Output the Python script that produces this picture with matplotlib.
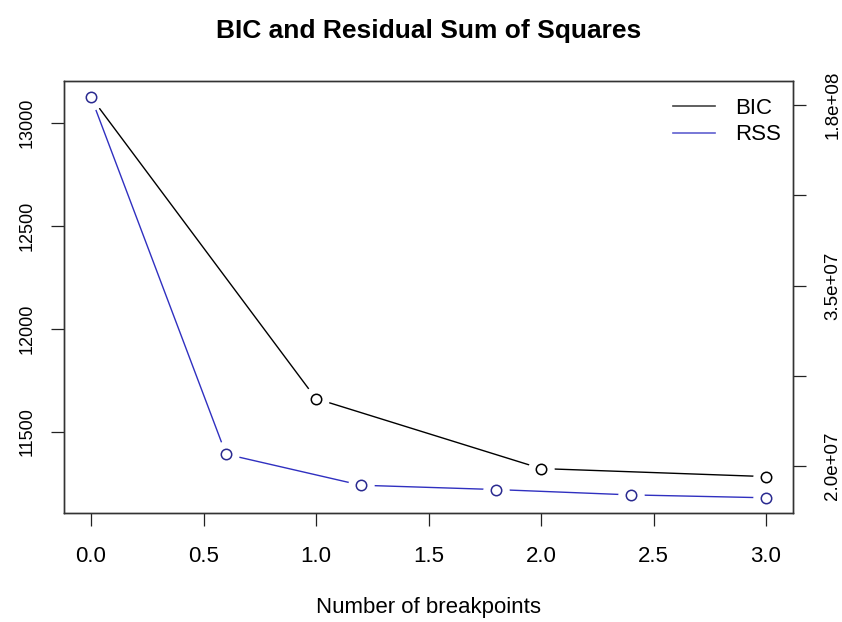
import matplotlib
matplotlib.use("Agg")
import matplotlib.pyplot as plt
from matplotlib.ticker import FixedLocator, FixedFormatter
from matplotlib.lines import Line2D

plt.rcParams['font.family'] = ['Liberation Sans', 'DejaVu Sans']

# data
bic_x = [0, 1, 2, 3]
bic = [13127, 11661, 11321, 11282]
rss_x = [0.0, 0.6, 1.2, 1.8, 2.4, 3.0]
# RSS drawn on the right axis (positions expressed on the shared plotting scale)
rss = [13127, 11391, 11240, 11219, 11193, 11179]
x_ticks = [0.0, 0.5, 1.0, 1.5, 2.0, 2.5, 3.0]
x_tick_labels = ["0.0", "0.5", "1.0", "1.5", "2.0", "2.5", "3.0"]
left_ticks = [11500, 12000, 12500, 13000]
right_tick_pos = [13088, 12653, 12208, 11773, 11333]
right_tick_labels = ["1.8e+08", "", "3.5e+07", "", "2.0e+07"]

fig = plt.figure(figsize=(8.42, 6.22), dpi=100)
ax = fig.add_axes([64/842, 1-513/622, (793-64)/842, (513-81)/622])
ax.set_xlim(-0.12, 3.12)
ax.set_ylim(11105, 13205)

ax2 = ax.twinx()
ax2.set_ylim(ax.get_ylim())

halo = 19
msz = 7.5
ax.plot(bic_x, bic, color='black', lw=1.0, zorder=2)
ax.plot(bic_x, bic, ls='none', marker='o', ms=halo, mfc='white', mec='none', zorder=3)
ax.plot(bic_x, bic, ls='none', marker='o', ms=msz, mfc='none', mec='black', mew=1.1, zorder=4)

ax2.plot(rss_x, rss, color='#3030c0', lw=1.0, zorder=2)
ax2.plot(rss_x, rss, ls='none', marker='o', ms=halo, mfc='white', mec='none', zorder=3)
ax2.plot(rss_x, rss, ls='none', marker='o', ms=msz, mfc='none', mec='#2a2a90', mew=1.1, zorder=4)

tick_kw = dict(direction='out', length=9.5, width=0.9, color='#222222')
ax.set_xticks(x_ticks)
ax.set_xticklabels(x_tick_labels)
ax.set_yticks(left_ticks)
ax.set_yticklabels([str(v) for v in left_ticks], rotation=90, va='center')
ax.tick_params(axis='x', pad=14, labelsize=16, **tick_kw)
ax.tick_params(axis='y', pad=11, labelsize=13, **tick_kw)

ax2.yaxis.set_major_locator(FixedLocator(right_tick_pos))
ax2.yaxis.set_major_formatter(FixedFormatter(right_tick_labels))
for lab in ax2.get_yticklabels():
    lab.set_rotation(90)
    lab.set_va('center')
ax2.tick_params(axis='y', pad=13, labelsize=13.5, **tick_kw)

for a in (ax, ax2):
    for s in a.spines.values():
        s.set_linewidth(1.0)
        s.set_color('#333333')

ax.set_xlabel("Number of breakpoints", fontsize=16, labelpad=22)
fig.text(428.5/842, 1-31/622, "BIC and Residual Sum of Squares", fontsize=19,
         fontweight='bold', ha='center', va='center')

handles = [Line2D([], [], color='#444444', lw=1.2), Line2D([], [], color='#6060d0', lw=1.2)]
leg = ax2.legend(handles, ["BIC", "RSS"], loc='upper right', frameon=False, fontsize=16,
                 handlelength=1.9, handletextpad=0.9, borderaxespad=0.0, labelspacing=0.25,
                 bbox_to_anchor=((790-64)/(793-64), 1-8/432))

fig.savefig("out.png", dpi=100)
